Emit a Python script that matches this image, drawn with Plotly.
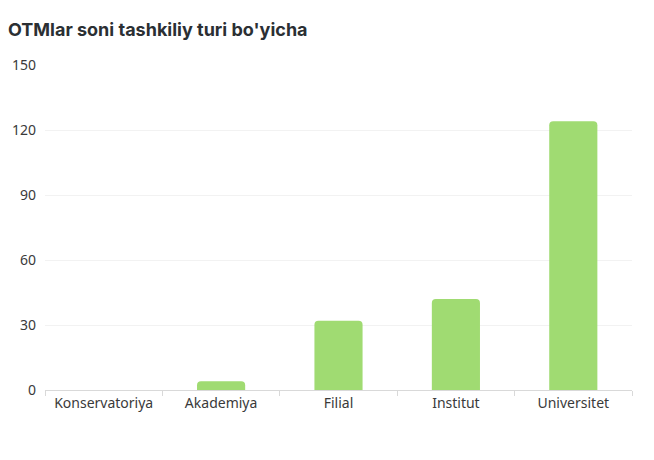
import plotly.graph_objects as go

# data
categories = ["Konservatoriya", "Akademiya", "Filial", "Institut", "Universitet"]
counts = [0, 4, 32, 42, 124]
y_ticks = [0, 30, 60, 90, 120, 150]

fig = go.Figure()
fig.add_trace(go.Bar(
    x=categories,
    y=counts,
    marker=dict(color="#a0db72", cornerradius=4, line=dict(width=0)),
    width=0.41,
    hoverinfo="x+y",
))

# the page body adds an 8px margin, so the figure is shifted back by that much
fig.update_layout(
    width=646,
    height=452,
    margin=dict(l=37, r=22, t=57, b=70),
    paper_bgcolor="white",
    plot_bgcolor="white",
    font=dict(family="Noto Sans, Open Sans, sans-serif", size=14, color="#3a3a3a"),
    title=dict(
        text="<b>OTMlar soni tashkiliy turi bo'yicha</b>",
        font=dict(family="Inter, Roboto, sans-serif", size=18, color="#2b2f33"),
        xref="container", yref="container",
        x=0, y=1 - 22 / 452,
        xanchor="left", yanchor="middle",
    ),
    showlegend=False,
)

fig.update_xaxes(
    showline=True, linecolor="#d9d9d9", linewidth=1,
    ticks="outside", tickson="boundaries", ticklen=5, tickcolor="#d9d9d9",
    showgrid=False, automargin=False,
    tickfont=dict(size=14, color="#3a3a3a"),
)
fig.update_yaxes(
    range=[0, 150], tickvals=y_ticks,
    showgrid=True, gridcolor="#f2f2f2", gridwidth=1,
    zeroline=False, showline=False, automargin=False,
    ticks="", ticklabelstandoff=8,
    tickfont=dict(size=14, color="#3a3a3a"),
)

fig.write_html("out.html")
